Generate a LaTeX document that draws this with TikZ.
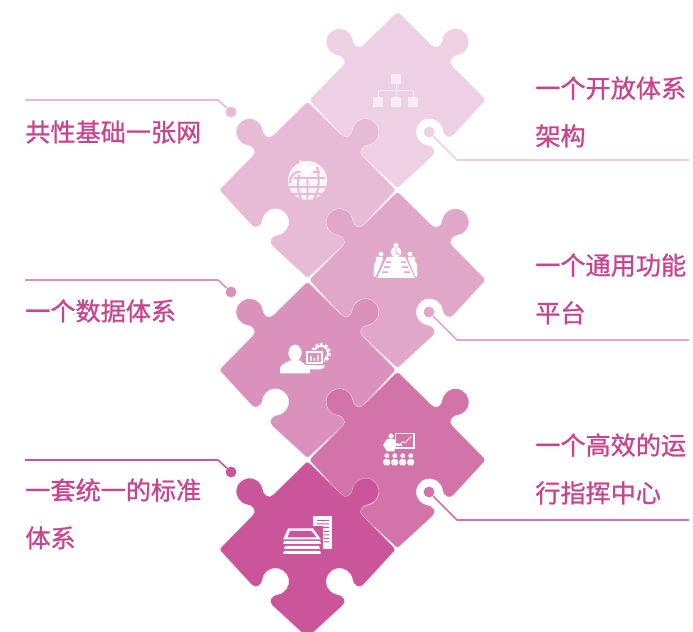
\documentclass[tikz,border=0pt]{standalone}
\usepackage{fontspec}
\usepackage{xcolor}
\newfontfamily\cjk[FakeBold=0.9]{Noto Sans CJK SC}
\definecolor{pcA}{HTML}{EDD0E3}
\definecolor{pcB}{HTML}{E7BBD6}
\definecolor{pcC}{HTML}{E1A7C8}
\definecolor{pcD}{HTML}{DA92BC}
\definecolor{pcE}{HTML}{D274A9}
\definecolor{pcF}{HTML}{CB559B}
\definecolor{labelpink}{HTML}{C9438F}
\newcommand{\piecepath}{(-4,84.5) .. controls (-1,88) and (1,88) .. (4,84.5) -- (34,55)
  .. controls (38,51) and (43.5,53) .. (44.9,60.3) arc[start angle=170,end angle=-80,radius=13.3]
  .. controls (53,43.5) and (51,38) .. (55,34) -- (84.5,4)
  .. controls (88,1) and (88,-1) .. (84.5,-4) -- (56,-35)
  .. controls (52,-39) and (46.5,-37) .. (45.1,-29.7) arc[start angle=10,end angle=260,radius=13.3]
  .. controls (37,-46.5) and (39,-52) .. (35,-56) -- (4,-84.5)
  .. controls (1,-88) and (-1,-88) .. (-4,-84.5) -- (-35,-56)
  .. controls (-39,-52) and (-37,-46.5) .. (-29.7,-45.1) arc[start angle=280,end angle=530,radius=13.3]
  .. controls (-46.5,-37) and (-52,-39) .. (-56,-35) -- (-84.5,-4)
  .. controls (-88,-1) and (-88,1) .. (-84.5,4) -- (-55,34)
  .. controls (-51,38) and (-53,43.5) .. (-60.3,44.9) arc[start angle=-100,end angle=-350,radius=13.3]
  .. controls (-43.5,53) and (-38,51) .. (-34,55) -- cycle}
\begin{document}
\begin{tikzpicture}[x=0.02cm,y=0.02cm]
\tikzstyle{leader} =[line width=0.9pt]
\tikzstyle{dotnode} =[circle,inner sep=0pt,minimum size=6.2pt]
\tikzstyle{label} =[anchor=west,inner sep=0pt,align=left,text=labelpink,font=\cjk\fontsize{14.3}{27.2}\selectfont]
\tikzstyle{icon} =[shift={(0,632)},yscale=-1]

\useasboundingbox (0,0) rectangle (693,632);
\clip (0,0) rectangle (693,632);

% puzzle pieces, back to front
\foreach \px/\py/\pc in {397.5/532/pcA,307.5/442/pcB,397.5/352/pcC,307.5/262/pcD,397.5/172/pcE,307.5/82.5/pcF}
  \draw[shift={(\px,\py)},fill=\pc,draw=white,draw opacity=0.35,line width=0.3pt] \piecepath;

% org chart
\begin{scope}[icon,white,opacity=0.6]
\fill (391,74) rectangle (401,84);
\fill (373,97) rectangle (383,107);
\fill (391,97) rectangle (401,107);
\fill (408,97) rectangle (418,107);
\draw[line width=0.5pt] (396,84) -- (396,97) (378,97) -- (378,90) -- (413,90) -- (413,97);
\end{scope}

% globe
\begin{scope}[icon]
\fill[white,opacity=0.85] (307.5,180.5) circle (19.5);
\draw[pcB,line width=1.2pt] (290,183) .. controls (290,176) and (294,172) .. (301,171) (313,172) -- (320,172);
\fill[white] (299,160) -- (315,168) -- (305,178) -- (304,171) -- (298,171) -- (299,167) -- (303,167) -- cycle;
\draw[pcB,line width=1.1pt] (294,178) -- (325,178) (289,187) -- (326,187) (292,194) -- (323,194);
\draw[pcB,line width=1.1pt] (307.5,178) -- (307.5,201) (299,175) .. controls (297,183) and (298,192) .. (301,199)
  (317,167) .. controls (320,178) and (319,192) .. (314,199);
\end{scope}

% meeting table
\begin{scope}[icon,white]
\fill (387,257) -- (405,257) -- (415,278) -- (377,278) -- cycle;
\fill[pcC] (386,261.5) rectangle (391,263) (401,261.5) rectangle (406,263)
  (384,266.5) rectangle (390,268) (402,266.5) rectangle (408,268)
  (382,271.5) rectangle (388,273) (404,271.5) rectangle (410,273);
\fill (396,245.5) circle (2.5) (396,252) circle (5.5);
\draw[pcC,line width=0.5pt] (396,247.5) -- (396,252.5) -- (400,255);
\foreach \hx/\hy in {381/254,378/259,377/266} \fill (\hx,\hy) circle (2.4);
\foreach \hx/\hy in {410/254,413/259,414/266} \fill (\hx,\hy) circle (2.4);
\fill[rounded corners=1pt] (379,257) -- (384,257) -- (375.5,277) -- (373.5,277) -- (374,264) -- cycle;
\fill[rounded corners=1pt] (412,257) -- (407,257) -- (415.5,277) -- (417.5,277) -- (417,264) -- cycle;
\end{scope}

% person with screen and gear
\begin{scope}[icon,white]
\draw[line width=2.2pt,dash pattern=on 1.5pt off 1.1pt] (321,353) circle (8);
\draw[line width=1pt] (321,353) circle (7.2);
\fill[pcD] (305,350) rectangle (324,365);
\draw[line width=0.6pt] (307,352) rectangle (322,363);
\fill (310,356) rectangle (311.5,361) (313.5,358) rectangle (315,361) (317,355) rectangle (318.5,361);
\fill (295,353) ellipse (6.6 and 8.3);
\fill (280,373.5) -- (280,368) .. controls (281,364) and (286,363) .. (290,360.5)
  -- (300,360.5) .. controls (302,362) and (304,364) .. (306,365) -- (325,365.5) .. controls (324,370) and (318,370) .. (310,369)
  -- (310,373.5) -- cycle;
\end{scope}

% presenter and board
\begin{scope}[icon,white]
\draw[line width=0.7pt] (395.5,433.5) rectangle (414,448);
\draw[line width=0.5pt] (399,445) -- (403,441.5) -- (405,443) -- (411,436.5);
\fill (391,436) circle (2.6);
\fill (387,439) -- (394,439) -- (396,443) -- (402,444.5) -- (402,446) -- (395,446) -- (394.5,451.5) -- (387,451.5) -- (383,445) -- cycle;
\foreach \hx in {386.7,394.7,402.7,410.7} {
  \fill (\hx,455.7) circle (2.4);
  \fill[rounded corners=1pt] (\hx-3.4,465.5) -- (\hx-3.4,459) -- (\hx+3.4,459) -- (\hx+3.4,465.5) -- cycle;
}
\end{scope}

% paper stack and document
\begin{scope}[icon,white]
\fill (313,516) -- (332,516) -- (332,549) -- (313,549) -- cycle;
\fill[pcF] (317,520) rectangle (329,521) (317,523.5) rectangle (329,524.5) (317,527) rectangle (329,528)
  (324,531) rectangle (329,532) (324,534.5) rectangle (329,535.5) (324,538) rectangle (329,539) (324,541.5) rectangle (329,542.5);
\fill[pcF] (310,526) rectangle (323,556);
\fill (288,528.5) -- (313,528.5) -- (321,539.5) -- (283,539.5) -- cycle;
\fill[pcF] (290,531) -- (311.5,531) -- (316.5,537.5) -- (287.5,537.5) -- cycle;
\fill (284,541) -- (320,541) -- (321,544) -- (283,544) -- cycle;
\fill (285,546) -- (319,546) -- (320,549) -- (284,549) -- cycle;
\fill (284,551) -- (320,551) -- (321,554) -- (283,554) -- cycle;
\end{scope}

% leaders
\coordinate (r1) at (689,472);
\coordinate (k1) at (457,472);
\node[dotnode,fill=pcA](d1) at (429,500){};
\draw[leader,pcA] (d1) -- (k1) -- (r1);

\coordinate (r2) at (25,532);
\coordinate (k2) at (218,532);
\node[dotnode,fill=pcB](d2) at (231,520){};
\draw[leader,pcB] (r2) -- (k2) -- (d2);

\coordinate (r3) at (689,292);
\coordinate (k3) at (457,292);
\node[dotnode,fill=pcC](d3) at (429,320){};
\draw[leader,pcC] (d3) -- (k3) -- (r3);

\coordinate (r4) at (25,352);
\coordinate (k4) at (218,352);
\node[dotnode,fill=pcD](d4) at (231,340){};
\draw[leader,pcD] (r4) -- (k4) -- (d4);

\coordinate (r5) at (689,112);
\coordinate (k5) at (457,112);
\node[dotnode,fill=pcE](d5) at (429,140){};
\draw[leader,pcE] (d5) -- (k5) -- (r5);

\coordinate (r6) at (25,172);
\coordinate (k6) at (218,172);
\node[dotnode,fill=pcF](d6) at (231,160){};
\draw[leader,pcF] (r6) -- (k6) -- (d6);

% labels
\node[label](t1) at (535,520){一个开放体系\\架构};
\node[label](t2) at (25,500){共性基础一张网};
\node[label](t3) at (535,343){一个通用功能\\平台};
\node[label](t4) at (25,321){一个数据体系};
\node[label](t5) at (535,163){一个高效的运\\行指挥中心};
\node[label](t6) at (25,118){一套统一的标准\\体系};

\end{tikzpicture}
\end{document}
